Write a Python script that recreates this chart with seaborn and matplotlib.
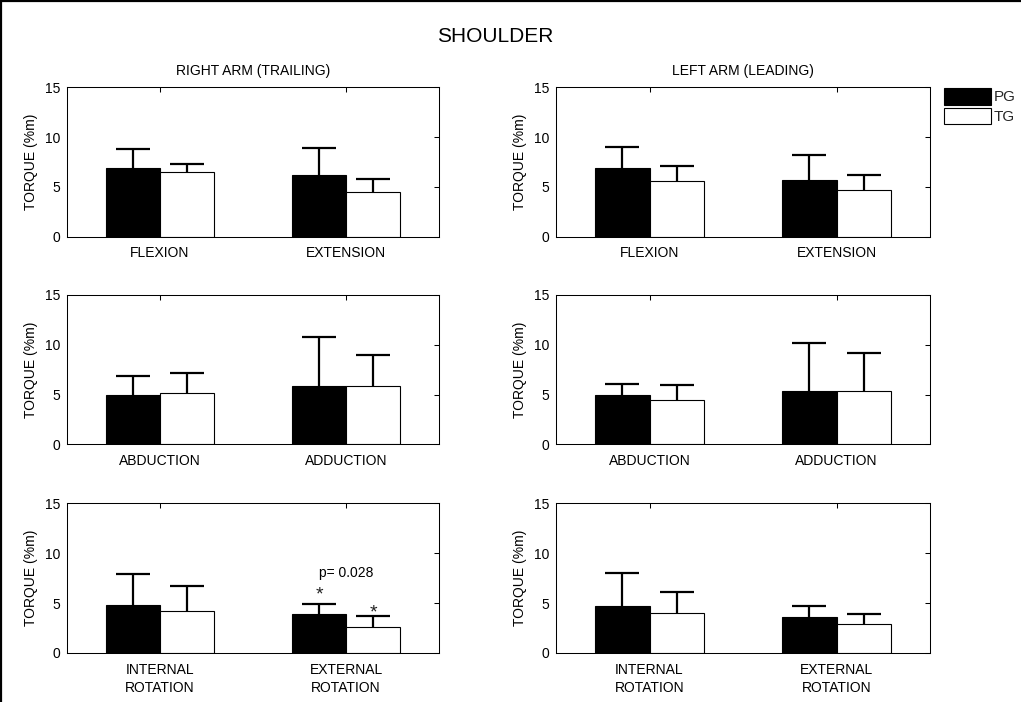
import numpy as np
import pandas as pd
import matplotlib
matplotlib.use("Agg")
import matplotlib.pyplot as plt
import seaborn as sns
from matplotlib.patches import Patch
from matplotlib.lines import Line2D

# ---------------- data ----------------
groups = ["PG", "TG"]
row_categories = [
    ["FLEXION", "EXTENSION"],
    ["ABDUCTION", "ADDUCTION"],
    ["INTERNAL\nROTATION", "EXTERNAL\nROTATION"],
]
side_titles = ["RIGHT ARM (TRAILING)", "LEFT ARM (LEADING)"]

# right arm (trailing)
right_pg_mean = [[6.90, 6.20], [4.92, 5.86], [4.84, 3.91]]
right_pg_sd = [[1.93, 2.73], [1.94, 4.89], [3.05, 1.00]]
right_tg_mean = [[6.53, 4.47], [5.12, 5.86], [4.24, 2.64]]
right_tg_sd = [[0.74, 1.30], [2.01, 3.14], [2.44, 1.07]]

# left arm (leading)
left_pg_mean = [[6.90, 5.66], [4.92, 5.36], [4.71, 3.57]]
left_pg_sd = [[2.07, 2.58], [1.17, 4.82], [3.28, 1.11]]
left_tg_mean = [[5.62, 4.72], [4.45, 5.36], [4.04, 2.87]]
left_tg_sd = [[1.51, 1.47], [1.51, 3.78], [2.11, 1.04]]

y_ticks = [0, 5, 10, 15]
p_text = "p= 0.028"

# ---------------- style ----------------
sns.set_theme(style="white")
plt.rcParams["font.family"] = ["Liberation Sans", "DejaVu Sans"]
plt.rcParams["axes.edgecolor"] = "black"
plt.rcParams["axes.linewidth"] = 0.75

FS = 10
fig = plt.figure(figsize=(10.21, 7.02), dpi=100)
W, H = 1021.0, 702.0

col_px = [(67, 439), (556, 930)]
row_px = [(87.3, 236.7), (295.0, 444.3), (503.3, 653.0)]

palette = {"PG": "black", "TG": "white"}

data_sets = [
    (right_pg_mean, right_pg_sd, right_tg_mean, right_tg_sd),
    (left_pg_mean, left_pg_sd, left_tg_mean, left_tg_sd),
]

axes = {}
for c, (x0, x1) in enumerate(col_px):
    pg_m, pg_s, tg_m, tg_s = data_sets[c]
    for r, (y0, y1) in enumerate(row_px):
        ax = fig.add_axes([x0 / W, 1 - y1 / H, (x1 - x0) / W, (y1 - y0) / H])
        cats = row_categories[r]
        df = pd.DataFrame({
            "movement": cats * 2,
            "group": ["PG"] * 2 + ["TG"] * 2,
            "torque": list(pg_m[r]) + list(tg_m[r]),
        })
        sns.barplot(data=df, x="movement", y="torque", hue="group",
                    order=cats, hue_order=groups, palette=palette,
                    edgecolor="black", linewidth=0.8, width=0.58,
                    errorbar=None, legend=False, saturation=1, ax=ax)
        # one-sided error bars
        for cont, means, sds in zip(ax.containers, [pg_m[r], tg_m[r]], [pg_s[r], tg_s[r]]):
            xs = [b.get_x() + b.get_width() / 2 for b in cont]
            _, caplines, _ = ax.errorbar(xs, means, yerr=[np.zeros(len(sds)), sds],
                                         fmt="none", ecolor="black", elinewidth=1.6,
                                         capsize=12.5, capthick=1.6, zorder=5)
            caplines[0].set_visible(False)
        ax.set_xlim(-0.5, 1.5)
        ax.set_ylim(0, 15)
        ax.set_yticks(y_ticks)
        ax.set_xlabel("")
        ax.set_ylabel("TORQUE (%m)", fontsize=FS, labelpad=5, color="black")
        ax.tick_params(direction="in", top=True, right=True, length=3.5, width=0.75,
                       labelsize=FS, colors="black", pad=5)
        ax.tick_params(axis="x", pad=7)
        for lab in ax.get_xticklabels():
            lab.set_linespacing(1.35)
        for sp in ax.spines.values():
            sp.set_visible(True)
            sp.set_color("black")
            sp.set_linewidth(0.75)
        if r == 0:
            ax.set_title(side_titles[c], fontsize=FS, pad=9, color="black")
        axes[(r, c)] = ax

# significance annotation (right arm, external rotation)
ax = axes[(2, 0)]
pg_bar = ax.containers[0][1]
tg_bar = ax.containers[1][1]
pg_x = pg_bar.get_x() + pg_bar.get_width() / 2
tg_x = tg_bar.get_x() + tg_bar.get_width() / 2
pg_top = right_pg_mean[2][1] + right_pg_sd[2][1]
tg_top = right_tg_mean[2][1] + right_tg_sd[2][1]
ax.text(pg_x, pg_top + 0.45, "*", ha="center", va="baseline", fontsize=14, color="#222222")
ax.text(tg_x, tg_top - 0.1, "*", ha="center", va="baseline", fontsize=14, color="#222222")
ax.text((pg_x + tg_x) / 2, pg_top + 3.15, p_text, ha="center", va="center", fontsize=FS, color="black")

# main title
fig.text(495.5 / W, 1 - 36 / H, "SHOULDER", ha="center", va="center", fontsize=15, color="black")

# legend
handles = [Patch(facecolor="black", edgecolor="black", linewidth=0.8),
           Patch(facecolor="white", edgecolor="black", linewidth=0.8)]
fig.legend(handles, groups, loc="upper left", bbox_to_anchor=(944 / W, 1 - 88 / H),
           frameon=False, fontsize=11, handlelength=3.1, handleheight=1.3,
           handletextpad=0.15, labelspacing=0.2, borderpad=0, borderaxespad=0)

# figure border (left and top)
fig.add_artist(Line2D([1 / W, 1 / W], [0, 1], transform=fig.transFigure, color="black", lw=1.6))
fig.add_artist(Line2D([0, 1], [1 - 1 / H, 1 - 1 / H], transform=fig.transFigure, color="black", lw=1.6))

fig.savefig("out.png", dpi=100)
